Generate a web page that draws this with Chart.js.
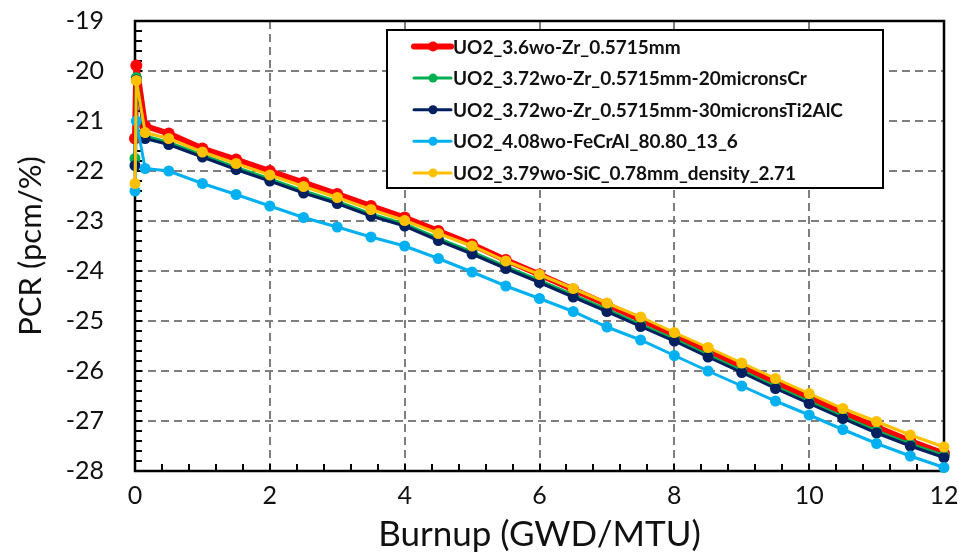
<!DOCTYPE html>
<html>
<head>
<meta charset="utf-8">
<script src="https://cdn.jsdelivr.net/npm/chart.js@4.4.1/dist/chart.umd.min.js"></script>
<style>
html,body{margin:0;padding:0;background:#fff;}
#wrap{width:965px;height:558px;position:relative;}
</style>
</head>
<body>
<div id="wrap"><canvas id="c" width="965" height="558"></canvas></div>
<script>
// Burnup (GWD/MTU)
const burnup = [0, 0.02, 0.15, 0.5, 1, 1.5, 2, 2.5, 3, 3.5, 4, 4.5, 5, 5.5, 6, 6.5, 7, 7.5, 8, 8.5, 9, 9.5, 10, 10.5, 11, 11.5, 12];

const seriesNames = [
  "UO2_3.6wo-Zr_0.5715mm",
  "UO2_3.72wo-Zr_0.5715mm-20micronsCr",
  "UO2_3.72wo-Zr_0.5715mm-30micronsTi2AlC",
  "UO2_4.08wo-FeCrAl_80.80_13_6",
  "UO2_3.79wo-SiC_0.78mm_density_2.71"
];

const pcrZr = [-21.35, -19.89, -21.10, -21.25, -21.55, -21.77, -22.00, -22.23, -22.46, -22.70, -22.93, -23.20, -23.47, -23.78, -24.07, -24.37, -24.67, -24.97, -25.28, -25.60, -25.91, -26.23, -26.54, -26.84, -27.12, -27.40, -27.65];
const pcrCr = [-21.75, -20.13, -21.30, -21.43, -21.68, -21.93, -22.16, -22.40, -22.61, -22.86, -23.06, -23.35, -23.62, -23.91, -24.19, -24.48, -24.77, -25.07, -25.36, -25.68, -25.99, -26.31, -26.61, -26.91, -27.20, -27.46, -27.69];
const pcrTi2AlC = [-21.89, -20.18, -21.35, -21.47, -21.72, -21.97, -22.20, -22.44, -22.65, -22.90, -23.10, -23.39, -23.66, -23.95, -24.23, -24.52, -24.81, -25.11, -25.40, -25.72, -26.03, -26.35, -26.65, -26.95, -27.24, -27.50, -27.73];
const pcrFeCrAl = [-22.40, -21.00, -21.95, -22.00, -22.25, -22.47, -22.70, -22.93, -23.12, -23.32, -23.50, -23.75, -24.02, -24.30, -24.55, -24.81, -25.12, -25.38, -25.69, -26.00, -26.30, -26.60, -26.88, -27.17, -27.45, -27.70, -27.93];
const pcrSiC = [-22.25, -20.19, -21.23, -21.35, -21.62, -21.85, -22.08, -22.31, -22.53, -22.77, -22.99, -23.25, -23.50, -23.80, -24.07, -24.35, -24.64, -24.92, -25.23, -25.53, -25.84, -26.15, -26.45, -26.75, -27.01, -27.28, -27.52];

const xTicks = [0, 2, 4, 6, 8, 10, 12];
const yTicks = [-19, -20, -21, -22, -23, -24, -25, -26, -27, -28];

const allSeries = [pcrZr, pcrCr, pcrTi2AlC, pcrFeCrAl, pcrSiC];
const colors = ["#FF0000", "#00B050", "#002060", "#00B0F0", "#FFC000"];
const lineW = [6, 3, 3, 3, 3];
const ptR = [6, 5.5, 5.5, 5.5, 5.5];

const FONT = "Lato, 'Open Sans', sans-serif";

const datasets = allSeries.map((vals, i) => ({
  label: seriesNames[i],
  data: burnup.map((b, k) => ({x: b, y: vals[k]})),
  borderColor: colors[i],
  backgroundColor: colors[i],
  borderWidth: lineW[i],
  pointRadius: ptR[i],
  pointBorderWidth: 0,
  pointBackgroundColor: colors[i],
  tension: 0,
  clip: false,
  order: 5 - i
}));

const framePlugin = {
  id: 'frame',
  beforeDatasetsDraw(chart) {
    const {ctx, chartArea: a, scales: {x, y}} = chart;
    ctx.save();
    ctx.strokeStyle = '#000';
    ctx.lineWidth = 2;
    ctx.beginPath();
    for (let k = 0; k <= 45; k++) {
      const v = -28 + k * 0.2;
      const py = Math.round(y.getPixelForValue(v));
      ctx.moveTo(a.left, py);
      ctx.lineTo(a.left + 7, py);
    }
    for (let k = 0; k <= 30; k++) {
      const v = k * 0.4;
      const px = Math.round(x.getPixelForValue(v));
      ctx.moveTo(px, a.bottom);
      ctx.lineTo(px, a.bottom - 7);
    }
    ctx.stroke();
    ctx.lineWidth = 2.5;
    ctx.strokeRect(a.left, a.top, a.right - a.left, a.bottom - a.top);
    ctx.restore();
  },
  afterDraw(chart) {
    const ctx = chart.ctx;
    ctx.save();
    const bx = 387, by = 30, bw = 496, bh = 158;
    ctx.fillStyle = '#fff';
    ctx.fillRect(bx, by, bw, bh);
    ctx.strokeStyle = '#000';
    ctx.lineWidth = 2;
    ctx.strokeRect(bx, by, bw, bh);
    ctx.font = "bold 19px " + FONT;
    ctx.textBaseline = 'middle';
    ctx.textAlign = 'left';
    seriesNames.forEach((name, i) => {
      const cy = 46.5 + i * 31.6;
      ctx.strokeStyle = colors[i];
      ctx.lineWidth = lineW[i];
      ctx.lineCap = 'round';
      ctx.beginPath();
      ctx.moveTo(414, cy);
      ctx.lineTo(451, cy);
      ctx.stroke();
      ctx.fillStyle = colors[i];
      ctx.beginPath();
      ctx.arc(433, cy, i === 0 ? 5 : 4.5, 0, Math.PI * 2);
      ctx.fill();
      ctx.fillStyle = '#111';
      ctx.fillText(name, 453, cy + 1);
    });
    ctx.restore();
  }
};

new Chart(document.getElementById('c'), {
  type: 'line',
  data: { datasets },
  plugins: [framePlugin],
  options: {
    responsive: false,
    animation: false,
    devicePixelRatio: 1,
    layout: { padding: { top: 21, right: 21, left: 0, bottom: 0 } },
    plugins: {
      legend: { display: false },
      tooltip: { enabled: false }
    },
    scales: {
      x: {
        type: 'linear',
        min: 0, max: 12,
        afterBuildTicks: s => { s.ticks = xTicks.map(v => ({value: v})); },
        afterFit: s => { s.height = 87; s.paddingLeft = 0; s.paddingRight = 0; },
        grid: {
          drawTicks: false,
          lineWidth: 2,
          color: c => (c.tick && (c.tick.value === 0 || c.tick.value === 12)) ? 'rgba(0,0,0,0)' : '#7f7f7f'
        },
        border: { display: false, dash: [8, 5] },
        ticks: {
          color: '#111',
          font: { family: FONT, size: 25 },
          padding: 10,
          maxRotation: 0
        },
        title: {
          display: true,
          text: 'Burnup (GWD/MTU)',
          color: '#111',
          font: { family: FONT, size: 35 },
          padding: { top: 0, bottom: 2 }
        }
      },
      y: {
        type: 'linear',
        min: -28, max: -19,
        afterBuildTicks: s => { s.ticks = yTicks.map(v => ({value: v})); },
        afterFit: s => { s.width = 135; s.paddingTop = 0; s.paddingBottom = 0; },
        grid: {
          drawTicks: false,
          lineWidth: 2,
          color: c => (c.tick && (c.tick.value === -19 || c.tick.value === -28)) ? 'rgba(0,0,0,0)' : '#7f7f7f'
        },
        border: { display: false, dash: [8, 5] },
        ticks: {
          color: '#111',
          font: { family: FONT, size: 25 },
          padding: 31
        },
        title: {
          display: true,
          text: 'PCR (pcm/%)',
          color: '#111',
          font: { family: FONT, size: 31 },
          padding: { top: 12, bottom: 0 }
        }
      }
    }
  }
});
</script>
</body>
</html>
